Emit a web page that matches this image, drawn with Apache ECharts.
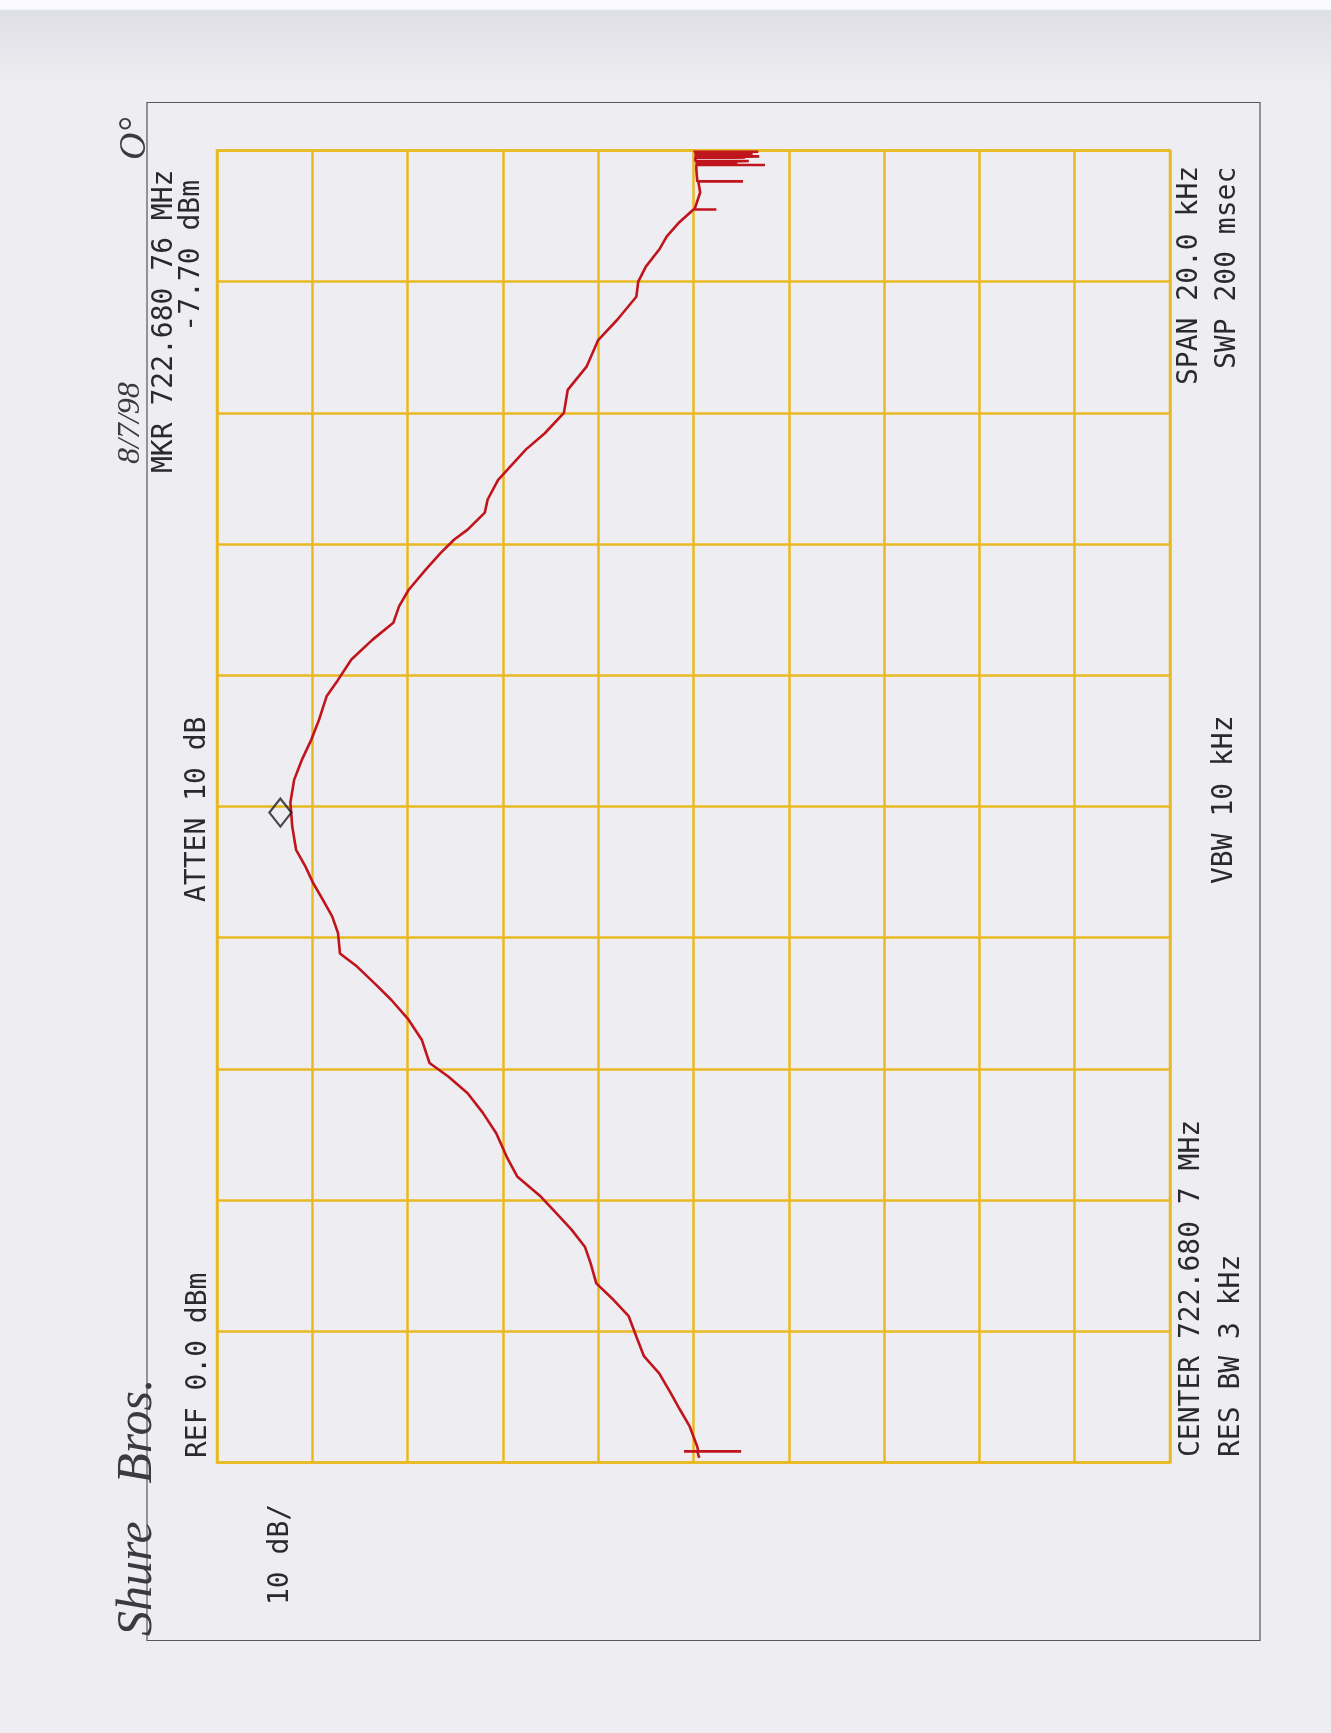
<!DOCTYPE html>
<html>
<head>
<meta charset="utf-8">
<title>Shure Bros. — spectrum trace 722.6807 MHz</title>
<script src="https://cdn.jsdelivr.net/npm/echarts@6/dist/echarts.min.js"></script>
<style>
  html, body { margin: 0; padding: 0; background: #eeedf2; }
  #chart { width: 1331px; height: 1733px; }
</style>
</head>
<body>
<div id="chart"></div>
<script>
// Frequency offset from the 722.680 7 MHz centre, in kHz (span 20 kHz, 2 kHz/div)
const freqOffsetKHz = [
  -9.93, -9.83, -9.83, -9.83, -9.83, -9.76, -9.45, -9.20, -8.94, -8.64,
  -8.38, -8.08, -7.77, -7.52, -7.27, -6.96, -6.71, -6.45, -6.20, -5.95,
  -5.64, -5.34, -4.98, -4.67, -4.37, -4.12, -3.91, -3.56, -3.25, -2.95,
  -2.72, -2.44, -2.24, -1.93, -1.68, -1.42, -1.17, -0.92, -0.66, -0.31,
   0.06,  0.41,  0.71,  1.02,  1.32,  1.68,  1.93,  2.24,  2.54,  2.80,
   3.05,  3.30,  3.61,  3.87,  4.07,  4.22,  4.48,  4.68,  4.98,  5.44,
   5.69,  6.00,  6.35,  6.71,  7.11,  7.42,  7.77,  8.00,  8.23,  8.49,
   8.69,  8.89,  9.10,  9.10,  9.10,  9.36,  9.53,  9.53,  9.53,  9.71,
   9.78,  9.78,  9.78,  9.81,  9.81,  9.81,  9.84,  9.84,  9.84,  9.87,
   9.89,  9.89,  9.89,  9.91,  9.91,  9.91,  9.93,  9.93,  9.93,  9.95,
   9.95,  9.95,  9.98,  9.98,  9.98, 10.00
];
// Trace level in dBm (REF 0.0 dBm, 10 dB/div)
const levelDBm = [
  -50.6, -50.4, -49.0, -55.0, -50.5, -50.4, -49.6, -48.6, -47.6, -46.4,
  -44.8, -44.0, -43.2, -41.6, -39.8, -39.2, -38.6, -37.2, -35.6, -34.0,
  -31.5, -30.4, -29.3, -27.9, -26.3, -24.3, -22.3, -21.5, -20.1, -18.3,
  -16.7, -14.7, -12.9, -12.7, -12.1, -11.1, -10.1,  -9.3,  -8.3,  -7.9,
   -7.7,  -8.1,  -8.9,  -9.9, -10.7, -11.5, -12.7, -14.1, -16.3, -18.5,
  -19.1, -20.1, -21.9, -23.5, -24.9, -26.3, -28.1, -28.4, -29.5, -32.4,
  -34.4, -36.4, -36.8, -38.8, -40.0, -42.0, -44.0, -44.2, -45.0, -46.4,
  -47.2, -48.4, -50.0, -52.4, -50.1, -50.7, -50.5, -55.2, -50.4, -50.3,
  -50.3, -57.5, -50.2, -50.2, -54.6, -50.2, -50.2, -55.8, -50.2, -50.2,
  -50.2, -55.4, -50.2, -50.2, -56.9, -50.1, -50.1, -55.9, -50.1, -50.1,
  -56.2, -50.1, -50.1, -56.8, -50.1, -50.1
];
// Marker readout
const markerKHz = [0.06];
const markerDBm = [-7.70];

// Axis ranges and divisions
const levelRange = [-100, 0];
const levelStep = 10;
const freqRange = [-10, 10];
const freqStep = 2;

const traceData = freqOffsetKHz.map((f, i) => [levelDBm[i], f]);
const markerData = markerKHz.map((f, i) => [markerDBm[i], f]);

const chart = echarts.init(document.getElementById('chart'), null, { renderer: 'canvas' });

const GRID = '#e8b922';
const INK = '#29292e';
const MONO = '"DejaVu Sans Mono", "Liberation Mono", monospace';
const HAND = '"Liberation Serif", "DejaVu Serif", serif';
const R = Math.PI / 2; // text reads bottom-to-top

function label(text, x, y, align, size, font, style, color) {
  return {
    type: 'text',
    x: x, y: y,
    rotation: R,
    z: 10,
    style: {
      text: text,
      fill: color || INK,
      font: (style || '') + ' ' + size + 'px ' + font,
      textAlign: align,
      textVerticalAlign: 'middle'
    }
  };
}

chart.setOption({
  backgroundColor: '#eeedf2',
  animation: false,
  grid: {
    left: 217, top: 150.5, width: 953, height: 1312,
    show: true,
    borderColor: GRID,
    borderWidth: 2.5,
    backgroundColor: 'transparent'
  },
  xAxis: {
    type: 'value',
    min: levelRange[0], max: levelRange[1], interval: levelStep,
    inverse: true,
    axisLine: { show: false },
    axisTick: { show: false },
    axisLabel: { show: false },
    splitLine: { show: true, lineStyle: { color: GRID, width: 2.5 } }
  },
  yAxis: {
    type: 'value',
    min: freqRange[0], max: freqRange[1], interval: freqStep,
    axisLine: { show: false },
    axisTick: { show: false },
    axisLabel: { show: false },
    splitLine: { show: true, lineStyle: { color: GRID, width: 2.5 } }
  },
  series: [
    {
      type: 'line',
      data: traceData,
      showSymbol: false,
      symbol: 'none',
      clip: false,
      lineStyle: { color: '#c0151c', width: 2.6 },
      z: 5
    },
    {
      type: 'scatter',
      data: markerData,
      symbol: 'diamond',
      symbolSize: [22, 28],
      symbolOffset: [-10, 10],
      itemStyle: { color: 'rgba(0,0,0,0)', borderColor: '#1e1e22', borderWidth: 2.2 },
      z: 6
    }
  ],
  graphic: [
    // paper edge shading
    {
      type: 'rect', z: -10, silent: true,
      shape: { x: 0, y: 0, width: 1331, height: 90 },
      style: {
        fill: new echarts.graphic.LinearGradient(0, 0, 0, 1, [
          { offset: 0, color: '#fbfbfd' },
          { offset: 0.1, color: '#fbfbfd' },
          { offset: 0.12, color: '#dfe0e6' },
          { offset: 1, color: '#eeedf2' }
        ])
      }
    },
    // plot border
    {
      type: 'rect', z: 1, silent: true,
      shape: { x: 147, y: 102.5, width: 1113, height: 1538 },
      style: { fill: 'none', stroke: '#55555c', lineWidth: 1.2 }
    },
    // instrument annotations
    label('MKR 722.680 76 MHz', 165, 473, 'left', 28, MONO),
    label('-7.70 dBm', 192, 180, 'right', 28, MONO),
    label('REF 0.0 dBm', 199, 1458, 'left', 28, MONO),
    label('ATTEN 10 dB', 198, 902, 'left', 28, MONO),
    label('10 dB/', 281, 1605, 'left', 28, MONO),
    label('SPAN 20.0 kHz', 1190, 385, 'left', 28, MONO),
    label('SWP 200 msec', 1228, 369, 'left', 28, MONO),
    label('VBW 10 kHz', 1225, 884, 'left', 28, MONO),
    label('CENTER 722.680 7 MHz', 1192, 1457, 'left', 28, MONO),
    label('RES BW 3 kHz', 1232, 1457, 'left', 28, MONO),
    // handwritten notes
    label('Shure   Bros.', 138, 1636, 'left', 50, HAND, 'italic', '#3a3a40'),
    label('8/7/98', 131, 464, 'left', 32, HAND, 'italic', '#3a3a40'),
    label('O°', 135, 160, 'left', 38, HAND, 'italic', '#3a3a40')
  ]
});
</script>
</body>
</html>
